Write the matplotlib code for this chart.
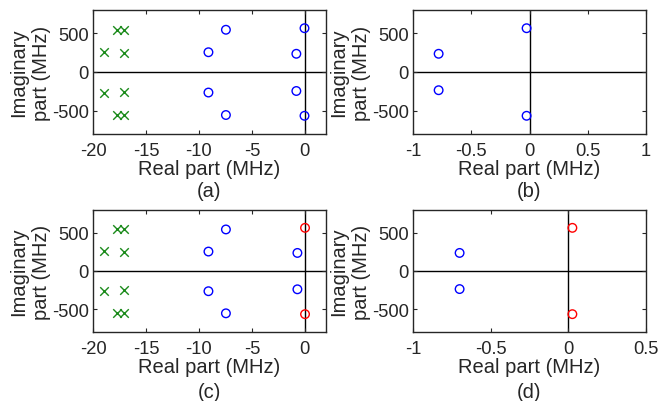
import matplotlib
matplotlib.use("Agg")
import matplotlib.pyplot as plt

plt.rcParams['font.family'] = ['Liberation Sans', 'DejaVu Sans']

# Poles (green x) and zeros (circles), real part MHz, imaginary part MHz
green_re = [-19.0, -17.7, -17.1, -17.1, -19.0, -17.7, -17.1, -17.1]
green_im = [260, 545, 545, 250, -265, -550, -550, -255]

blue_a_re = [-7.45, -9.1, -0.8, -0.03, -9.1, -7.45, -0.8, -0.03]
blue_a_im = [545, 255, 235, 565, -265, -555, -245, -565]

blue_b_re = [-0.78, -0.78, -0.025, -0.025]
blue_b_im = [235, -235, 565, -565]

blue_c_re = [-7.45, -9.1, -0.7, -9.1, -7.45, -0.7]
blue_c_im = [545, 255, 237, -265, -555, -240]
red_c_re = [0.02, 0.02]
red_c_im = [566, -566]

blue_d_re = [-0.70, -0.70]
blue_d_im = [237, -237]
red_d_re = [0.026, 0.026]
red_d_im = [566, -566]

xt_a = [-20, -15, -10, -5, 0]
xt_b = [-1, -0.5, 0, 0.5, 1]
xt_d = [-1, -0.5, 0, 0.5]
yt = [-500, 0, 500]

fig = plt.figure(figsize=(6.6, 4.02), dpi=100)
W, H = 660, 402

def mkax(l, t, r, b):
    return fig.add_axes([l / W, 1 - b / H, (r - l) / W, (b - t) / H])

axs = [mkax(93, 11, 326, 135), mkax(413, 11, 646, 135),
       mkax(93, 211, 326, 333), mkax(413, 211, 646, 333)]

fs_tick = 13.2
fs_lab = 14.5
GREEN = '#1a8a1a'
BLUE = '#0000ff'
RED = '#ff0000'
TXT = '#262626'

def style(ax, xlim, xt, xtl, cap, capy):
    ax.set_xlim(*xlim)
    ax.set_ylim(-800, 800)
    ax.set_xticks(xt)
    ax.set_xticklabels(xtl)
    ax.set_yticks(yt)
    ax.set_yticklabels(['-500', '0', '500'])
    ax.tick_params(direction='in', top=True, right=True, labelsize=fs_tick,
                   length=3, width=0.8, colors=TXT, labelcolor=TXT)
    ax.tick_params(axis='x', pad=6)
    ax.tick_params(axis='y', pad=3)
    for s in ax.spines.values():
        s.set_linewidth(1.0)
        s.set_color(TXT)
    ax.axhline(0, color='black', lw=1.0, zorder=1)
    ax.axvline(0, color='black', lw=1.0, zorder=1)
    ax.set_xlabel('Real part (MHz)', fontsize=fs_lab, color=TXT, labelpad=0)
    ax.set_ylabel('Imaginary\npart (MHz)', fontsize=fs_lab, color=TXT,
                  labelpad=1, linespacing=1.2)
    ax.text(0.5, capy, cap, transform=ax.transAxes, ha='center', va='top',
            fontsize=fs_lab, color=TXT)

mk = dict(s=38, linewidths=1.0, zorder=3)

ax = axs[0]
ax.scatter(green_re, green_im, marker='x', color=GREEN, **mk)
ax.scatter(blue_a_re, blue_a_im, marker='o', facecolors='none', edgecolors=BLUE, **mk)
style(ax, (-20, 2), xt_a, ['-20', '-15', '-10', '-5', '0'], '(a)', -0.38)

ax = axs[1]
ax.scatter(blue_b_re, blue_b_im, marker='o', facecolors='none', edgecolors=BLUE, **mk)
style(ax, (-1, 1), xt_b, ['-1', '-0.5', '0', '0.5', '1'], '(b)', -0.38)

ax = axs[2]
ax.scatter(green_re, green_im, marker='x', color=GREEN, **mk)
ax.scatter(blue_c_re, blue_c_im, marker='o', facecolors='none', edgecolors=BLUE, **mk)
ax.scatter(red_c_re, red_c_im, marker='o', facecolors='none', edgecolors=RED, **mk)
style(ax, (-20, 2), xt_a, ['-20', '-15', '-10', '-5', '0'], '(c)', -0.41)

ax = axs[3]
ax.scatter(blue_d_re, blue_d_im, marker='o', facecolors='none', edgecolors=BLUE, **mk)
ax.scatter(red_d_re, red_d_im, marker='o', facecolors='none', edgecolors=RED, **mk)
style(ax, (-1, 0.5), xt_d, ['-1', '-0.5', '0', '0.5'], '(d)', -0.41)

fig.savefig('out.png', dpi=100, facecolor='white')
